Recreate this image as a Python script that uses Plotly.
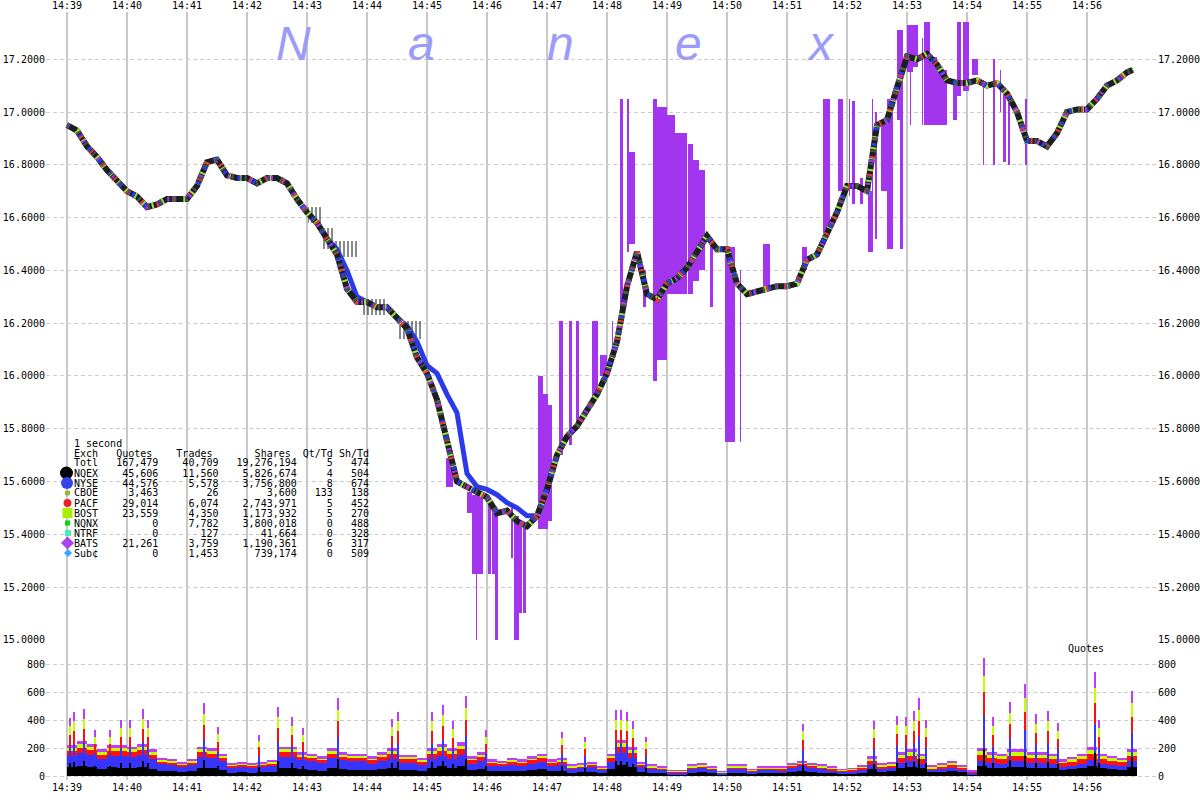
import pandas as pd
import plotly.graph_objects as go

# ---------------- data ----------------
BASE = pd.Timestamp("2010-05-06 14:39:00")

# consensus quote price, every 10 s from 14:39:00 (+ last point)
price_sec = list(range(0, 1061, 10)) + [1066]
price = [16.95, 16.93, 16.87, 16.83, 16.78, 16.74, 16.70, 16.68, 16.64, 16.65,
         16.67, 16.67, 16.67, 16.72, 16.81, 16.82, 16.76, 16.75, 16.75, 16.73,
         16.75, 16.75, 16.73, 16.67, 16.62, 16.58, 16.52, 16.46, 16.33, 16.28,
         16.28, 16.26, 16.26, 16.22, 16.18, 16.07, 16.01, 15.91, 15.75, 15.60,
         15.58, 15.56, 15.54, 15.48, 15.49, 15.45, 15.43, 15.47, 15.57, 15.70,
         15.77, 15.81, 15.87, 15.93, 16.01, 16.13, 16.34, 16.47, 16.31, 16.29,
         16.35, 16.37, 16.41, 16.47, 16.53, 16.48, 16.48, 16.35, 16.31, 16.32,
         16.33, 16.34, 16.34, 16.35, 16.44, 16.46, 16.54, 16.62, 16.72, 16.72,
         16.70, 16.95, 16.97, 17.10, 17.21, 17.20, 17.22, 17.18, 17.12, 17.11,
         17.11, 17.12, 17.10, 17.11, 17.07, 17.00, 16.89, 16.89, 16.87, 16.92,
         17.00, 17.01, 17.01, 17.05, 17.10, 17.12, 17.15, 17.16]

# NYSE quote (blue), lags the market between 14:43:30 and 14:46:50
nyse = [16.95, 16.93, 16.87, 16.83, 16.78, 16.74, 16.70, 16.68, 16.64, 16.65,
        16.67, 16.67, 16.67, 16.72, 16.81, 16.82, 16.76, 16.75, 16.75, 16.73,
        16.75, 16.75, 16.73, 16.67, 16.62, 16.58, 16.52, 16.48, 16.40, 16.30,
        16.28, 16.26, 16.26, 16.22, 16.19, 16.13, 16.04, 16.01, 15.93, 15.86,
        15.63, 15.58, 15.57, 15.55, 15.52, 15.50, 15.47, 15.47, 15.57, 15.70,
        15.77, 15.81, 15.87, 15.93, 16.01, 16.13, 16.34, 16.47, 16.31, 16.29,
        16.35, 16.37, 16.41, 16.47, 16.53, 16.48, 16.48, 16.35, 16.31, 16.32,
        16.33, 16.34, 16.34, 16.35, 16.44, 16.46, 16.54, 16.62, 16.72, 16.72,
        16.70, 16.95, 16.97, 17.10, 17.21, 17.20, 17.22, 17.18, 17.12, 17.11,
        17.11, 17.12, 17.10, 17.11, 17.07, 17.00, 16.89, 16.89, 16.87, 16.92,
        17.00, 17.01, 17.01, 17.05, 17.10, 17.12, 17.15, 17.16]

# BATS wide quotes (purple): start/end second, low, high
bats_t0 = [379, 400, 405, 409, 421, 425, 428, 444, 447, 452, 456, 471, 476, 481, 492, 502, 509, 525, 533, 545,
           553, 560, 562, 576, 586, 590, 600, 608, 621, 626, 632, 643, 658, 673, 696, 735, 756, 771, 782, 785,
           793, 801, 805, 808, 814, 820, 830, 833, 840, 843, 846, 855, 857, 863, 870, 886, 890, 896, 905, 916,
           926, 933, 936, 941, 958]
bats_t1 = [386, 405, 416, 410, 424, 431, 431, 446, 452, 455, 459, 476, 481, 485, 496, 505, 512, 531, 540, 546,
           556, 562, 568, 579, 590, 600, 608, 620, 626, 632, 638, 646, 668, 674, 703, 740, 763, 776, 783, 788,
           796, 806, 806, 810, 820, 826, 833, 836, 846, 844, 851, 856, 863, 870, 880, 890, 894, 902, 911, 917,
           928, 934, 939, 943, 960]
bats_lo = [15.58, 15.48, 15.25, 15.00, 15.25, 15.25, 15.00, 15.31, 15.00, 15.10, 15.10, 15.42, 15.42, 15.45, 15.70,
           15.74, 15.81, 15.92, 16.00, 16.05, 16.25, 16.47, 16.50, 16.26, 15.98, 16.06, 16.31, 16.31, 16.31, 16.36,
           16.40, 16.26, 15.75, 15.75, 16.34, 16.40, 16.54, 16.70, 16.68, 16.65, 16.65, 16.47, 16.47, 16.52, 16.70,
           16.48, 16.97, 16.48, 17.15, 16.95, 17.17, 16.95, 16.95, 16.95, 16.95, 16.97, 17.06, 17.08, 17.14, 16.80,
           16.80, 17.00, 16.81, 16.80, 16.80]
bats_hi = [15.69, 15.56, 15.55, 15.25, 15.52, 15.50, 15.25, 15.50, 15.47, 15.45, 15.44, 16.00, 15.93, 15.89, 16.21,
           16.21, 16.21, 16.21, 16.08, 16.21, 17.05, 17.05, 16.85, 16.40, 17.05, 17.02, 16.99, 16.92, 16.88, 16.82,
           16.78, 16.52, 16.49, 16.40, 16.50, 16.49, 17.05, 17.05, 17.05, 17.04, 16.75, 16.70, 17.05, 17.00, 16.97,
           17.05, 17.31, 17.31, 17.33, 17.33, 17.33, 17.28, 17.34, 17.21, 17.16, 17.12, 17.34, 17.34, 17.20, 17.12,
           17.20, 17.16, 17.07, 17.07, 17.05]

# NQEX wide quotes (black hatching)
nq_t0 = [241, 256, 268, 296, 330]
nq_t1 = [256, 268, 290, 320, 356]
nq_lo = [16.58, 16.48, 16.45, 16.23, 16.14]
nq_hi = [16.64, 16.56, 16.51, 16.29, 16.21]

# quote counts per second, 10 s buckets from 14:39:00
vol_sec = list(range(0, 1061, 10))
vol_nqex = [62, 70, 64, 53, 62, 58, 59, 64, 53, 36, 34, 28, 34, 59, 56, 45, 25, 28, 25, 28,
            31, 59, 59, 48, 45, 39, 56, 48, 45, 45,
            42, 51, 60, 45, 45, 39, 60, 69, 60, 72, 42, 51, 36, 33, 39, 36, 42, 48, 36, 39,
            24, 27, 30, 21, 48, 78, 63, 30, 24, 21, 12, 12, 24, 27, 21, 11, 24, 24, 15, 21,
            21, 20, 29, 33, 29, 24, 20, 15, 17, 23,
            49, 32, 35, 60, 67, 56, 26, 32, 37, 28, 14, 70, 60, 56, 67, 67, 60, 60, 56, 42,
            47, 56, 74, 56, 51, 46, 67]
vol_nyse = [84, 95, 87, 72, 84, 88, 80, 87, 72, 49, 46, 38, 46, 80, 76, 61, 34, 38, 34, 38,
            42, 80, 80, 65, 61, 53, 76, 65, 61, 61,
            45, 54, 64, 48, 48, 42, 64, 74, 64, 77, 45, 54, 38, 35, 42, 38, 45, 51, 38, 42,
            26, 29, 32, 22, 51, 83, 67, 32, 26, 22, 13, 13, 26, 29, 22, 11, 26, 26, 16, 22,
            22, 21, 30, 35, 30, 26, 21, 16, 18, 24,
            28, 18, 20, 34, 38, 32, 15, 18, 21, 16, 8, 40, 34, 32, 38, 38, 34, 34, 32, 24,
            27, 32, 42, 32, 29, 26, 38]
vol_pacf = [31, 35, 32, 27, 31, 30, 29, 32, 27, 18, 17, 14, 17, 29, 28, 22, 13, 14, 13, 14,
            15, 29, 29, 24, 22, 20, 28, 24, 22, 22,
            24, 29, 34, 26, 26, 22, 34, 39, 34, 41, 24, 29, 20, 19, 22, 20, 24, 27, 20, 22,
            14, 15, 17, 12, 27, 44, 36, 17, 14, 12, 7, 7, 14, 15, 12, 6, 14, 14, 9, 12,
            12, 11, 16, 19, 16, 14, 11, 9, 9, 13,
            28, 18, 20, 34, 38, 32, 15, 18, 21, 16, 8, 40, 34, 32, 38, 38, 34, 34, 32, 24,
            27, 32, 42, 32, 29, 26, 38]
vol_bost = [24, 28, 25, 21, 24, 26, 23, 25, 21, 14, 13, 11, 13, 23, 22, 18, 10, 11, 10, 11,
            12, 23, 23, 19, 18, 15, 22, 19, 18, 18,
            15, 19, 22, 17, 17, 14, 22, 25, 22, 26, 15, 19, 13, 12, 14, 13, 15, 18, 13, 14,
            9, 10, 11, 8, 18, 29, 23, 11, 9, 8, 4, 4, 9, 10, 8, 4, 9, 9, 5, 8,
            8, 7, 10, 12, 10, 9, 7, 5, 6, 8,
            18, 12, 13, 22, 25, 21, 10, 12, 14, 10, 5, 26, 22, 21, 25, 25, 22, 22, 21, 16,
            18, 21, 27, 21, 19, 17, 25]
vol_bats = [19, 22, 22, 17, 19, 18, 19, 22, 17, 13, 10, 9, 10, 19, 18, 14, 8, 9, 8, 9,
            10, 19, 19, 14, 14, 13, 18, 14, 14, 14,
            14, 17, 20, 14, 14, 13, 20, 23, 20, 24, 14, 17, 13, 11, 13, 13, 14, 16, 13, 13,
            7, 9, 10, 7, 16, 26, 21, 10, 7, 7, 4, 4, 7, 9, 7, 3, 7, 7, 5, 7,
            7, 6, 10, 11, 10, 7, 6, 5, 5, 7,
            17, 10, 12, 20, 22, 19, 9, 10, 12, 10, 5, 24, 20, 19, 22, 22, 20, 20, 19, 14,
            16, 19, 25, 19, 17, 15, 22]

# single-second bursts
spk_sec = [3, 7, 17, 28, 43, 54, 63, 76, 81, 137, 151, 192, 211, 225, 236, 271, 325, 331, 365, 376,
           386, 399, 419, 495, 518, 549, 554, 560, 566, 579, 736, 807, 830, 839, 847, 852, 859, 917, 926, 943,
           958, 969, 981, 991, 1028, 1032, 1065]
spk_nqex = [90, 100, 105, 75, 75, 90, 90, 105, 90, 115, 75, 65, 110, 90, 75, 125, 90, 100, 100, 110,
            85, 125, 75, 70, 60, 105, 105, 100, 85, 60, 80, 85, 95, 90, 100, 125, 90, 190, 90, 115,
            145, 95, 100, 85, 165, 90, 135]
spk_nyse = [115, 130, 135, 90, 90, 110, 110, 135, 110, 145, 100, 80, 135, 120, 95, 155, 115, 130, 130, 145,
            110, 160, 90, 90, 80, 130, 130, 130, 110, 80, 105, 110, 120, 120, 130, 155, 110, 240, 120, 150,
            185, 125, 130, 105, 205, 110, 170]
spk_pacf = [85, 90, 95, 65, 65, 80, 80, 95, 80, 105, 70, 60, 100, 85, 70, 110, 80, 90, 90, 100,
            80, 115, 65, 60, 55, 95, 95, 90, 80, 55, 75, 80, 85, 85, 95, 110, 80, 170, 85, 105,
            130, 90, 95, 75, 150, 80, 120]
spk_bost = [65, 70, 75, 50, 50, 60, 60, 75, 60, 80, 55, 45, 75, 65, 50, 85, 65, 70, 70, 80,
            60, 85, 50, 50, 45, 70, 70, 70, 60, 45, 60, 60, 65, 65, 70, 85, 60, 117, 65, 80,
            100, 65, 70, 60, 110, 60, 95]
spk_bats = [60, 70, 70, 50, 50, 60, 60, 70, 60, 75, 50, 40, 70, 60, 50, 85, 60, 70, 70, 75,
            55, 85, 50, 45, 40, 70, 70, 70, 55, 40, 55, 55, 65, 60, 70, 85, 60, 123, 60, 80,
            95, 65, 70, 55, 110, 60, 90]

# summary table
tbl_exch = ["Totl", "NQEX", "NYSE", "CBOE", "PACF", "BOST", "NQNX", "NTRF", "BATS", "Sub\u00a2"]
tbl_quotes = ["167,479", "45,606", "44,576", "3,463", "29,014", "23,559", "0", "0", "21,261", "0"]
tbl_trades = ["40,709", "11,560", "5,578", "26", "6,074", "4,350", "7,782", "127", "3,759", "1,453"]
tbl_shares = ["19,276,194", "5,826,674", "3,756,800", "3,600", "2,743,971", "1,173,932",
              "3,800,018", "41,664", "1,190,361", "739,174"]
tbl_qttd = ["5", "4", "8", "133", "5", "5", "0", "0", "6", "0"]
tbl_shtd = ["474", "504", "674", "138", "452", "270", "488", "328", "317", "509"]

minute_ticks = list(range(0, 1021, 60))

# ---------------- helpers ----------------
def T(s):
    return BASE + pd.Timedelta(seconds=s)

L, R, TOP, BOT, W, H = 46, 43, 12, 20, 1200, 800
PW, PH = W - L - R, H - TOP - BOT
def px(x):
    return (x - L) / PW
def py(y):
    return (H - BOT - y) / PH

SPLIT = py(640)
MONO = "DejaVu Sans Mono"
C_BLK, C_BLU, C_RED, C_LIM, C_PUR = "#000000", "#3535ff", "#ff1010", "#c4ff00", "#bf3bff"

fig = go.Figure()

# ---------------- volume panel ----------------
vx = [T(s + 5) for s in vol_sec]
base = [0] * len(vol_sec)
for arr, col in [(vol_nqex, C_BLK), (vol_nyse, C_BLU), (vol_pacf, C_RED), (vol_bost, C_LIM), (vol_bats, C_PUR)]:
    fig.add_bar(x=vx, y=arr, base=list(base), width=10000, marker_color=col,
                marker_line_width=0, xaxis="x2", yaxis="y2", hoverinfo="skip")
    base = [b + a for b, a in zip(base, arr)]

sx = [T(s) for s in spk_sec]
base = [0] * len(spk_sec)
for arr, col in [(spk_nqex, C_BLK), (spk_nyse, C_BLU), (spk_pacf, C_RED), (spk_bost, C_LIM), (spk_bats, C_PUR)]:
    fig.add_bar(x=sx, y=arr, base=list(base), width=1800, marker_color=col,
                marker_line_width=0, xaxis="x2", yaxis="y2", hoverinfo="skip")
    base = [b + a for b, a in zip(base, arr)]

# ---------------- price panel ----------------
fig.add_bar(x=[T((a + b) / 2) for a, b in zip(bats_t0, bats_t1)],
            y=[h - l for l, h in zip(bats_lo, bats_hi)], base=bats_lo,
            width=[(b - a) * 1000 for a, b in zip(bats_t0, bats_t1)],
            marker_color="#a435ee", marker_line_width=0, xaxis="x", yaxis="y", hoverinfo="skip")

fig.add_bar(x=[T((a + b) / 2) for a, b in zip(nq_t0, nq_t1)],
            y=[h - l for l, h in zip(nq_lo, nq_hi)], base=nq_lo,
            width=[(b - a) * 1000 for a, b in zip(nq_t0, nq_t1)],
            marker=dict(color="rgba(0,0,0,0)", line_width=0,
                        pattern=dict(shape="|", fgcolor="#0c1a16", bgcolor="rgba(0,0,0,0)",
                                     size=4, solidity=0.5, fillmode="overlay")),
            xaxis="x", yaxis="y", hoverinfo="skip")

px_t = [T(s) for s in price_sec]
fig.add_scatter(x=px_t, y=nyse, mode="lines", line=dict(color="#2a3ae8", width=5),
                xaxis="x", yaxis="y", hoverinfo="skip")
fig.add_scatter(x=px_t, y=price, mode="lines", line=dict(color="#1b201e", width=6),
                xaxis="x", yaxis="y", hoverinfo="skip")
for col, wd, dash in [("#9be040", 6, "2px,9px"), ("#2a3ae8", 5, "3px,13px"),
                      ("#e03a3a", 6, "2px,16px"), ("#a435ee", 5, "2px,21px"),
                      ("#4a524e", 6, "2px,11px")]:
    fig.add_scatter(x=px_t, y=price, mode="lines", line=dict(color=col, width=wd, dash=dash),
                    xaxis="x", yaxis="y", hoverinfo="skip")

# dummy traces so the right-hand axes exist
fig.add_scatter(x=[], y=[], xaxis="x", yaxis="y3", hoverinfo="skip")
fig.add_scatter(x=[], y=[], xaxis="x2", yaxis="y4", hoverinfo="skip")

# ---------------- layout ----------------
tickfont = dict(family=MONO, size=10, color="#000000")
xcommon = dict(type="date", range=[T(-21), T(1090)], tickformat="%H:%M",
               tickmode="array", tickvals=[T(s) for s in minute_ticks],
               showgrid=True, gridcolor="#c8c8c8", gridwidth=2, zeroline=False, showline=False,
               ticks="", tickfont=tickfont, automargin=False)
ymain = dict(range=[14.9995, 17.379], dtick=0.2, tick0=15, tickformat=".4f", zeroline=False,
             showline=False, ticks="", tickfont=tickfont, automargin=False)
yvol = dict(range=[-28.6, 971.4], dtick=200, tick0=0, zeroline=False, showline=False, ticks="",
            tickfont=tickfont, automargin=False)

fig.update_layout(
    width=W, height=H, margin=dict(l=L, r=R, t=TOP, b=BOT),
    paper_bgcolor="white", plot_bgcolor="white", showlegend=False, barmode="overlay", bargap=0,
    xaxis=dict(xcommon, domain=[0, 1], anchor="y", side="top"),
    xaxis2=dict(xcommon, domain=[0, 1], anchor="y2", side="bottom", matches="x"),
    yaxis=dict(ymain, domain=[SPLIT, 1], anchor="x", side="left",
               showgrid=True, gridcolor="#cccccc", griddash="4px,3px", gridwidth=1),
    yaxis3=dict(ymain, overlaying="y", anchor="x", side="right", showgrid=False),
    yaxis2=dict(yvol, domain=[0, SPLIT], anchor="x2", side="left",
                showgrid=True, gridcolor="#cccccc", griddash="4px,3px", gridwidth=1),
    yaxis4=dict(yvol, overlaying="y2", anchor="x2", side="right", showgrid=False),
)

ann = []
# watermark
for ch, cx in zip(["N", "a", "n", "e", "x"], [293, 422, 560, 688, 821]):
    ann.append(dict(text=ch, xref="paper", yref="paper", x=px(cx), y=py(44), xanchor="center",
                    yanchor="middle", showarrow=False,
                    font=dict(family="Liberation Sans", size=48, color="#9c9cf8", style="italic")))

# table text
NB = "\u00a0"
lines = ["1 second".replace(" ", NB),
         "Exch" + NB * 3 + "Quotes" + NB * 4 + "Trades" + NB * 7 + "Shares" + NB * 2 + "Qt/Td" + NB + "Sh/Td"]
for i in range(len(tbl_exch)):
    row = (tbl_exch[i] + tbl_quotes[i].rjust(10) + tbl_trades[i].rjust(10) + tbl_shares[i].rjust(13)
           + tbl_qttd[i].rjust(6) + tbl_shtd[i].rjust(6))
    lines.append(row.replace(" ", NB))
for i, ln in enumerate(lines):
    ann.append(dict(text=ln, xref="paper", yref="paper", x=px(72), y=py(443 + 10 * i),
                    xanchor="left", yanchor="middle", showarrow=False,
                    font=dict(family=MONO, size=10, color="#000000")))

ann.append(dict(text="Quotes", xref="paper", yref="paper", x=px(1086), y=py(648), xanchor="center",
                yanchor="middle", showarrow=False, font=dict(family=MONO, size=10, color="#000000")))
fig.update_layout(annotations=ann)

# table markers
shapes = []
def mk(kind, cx, cy, r, col):
    d = dict(xref="paper", yref="paper", xsizemode="pixel", ysizemode="pixel",
             xanchor=px(cx), yanchor=py(cy), fillcolor=col, line_width=0, layer="above")
    if kind == "diamond":
        d.update(type="path", path=f"M 0,{r} L {r},0 L 0,{-r} L {-r},0 Z")
    else:
        d.update(type=kind, x0=-r, x1=r, y0=-r, y1=r)
    shapes.append(d)

mk("circle", 66.5, 473, 6.5, "#000000")
mk("circle", 67, 483, 6, "#3344ee")
mk("circle", 67.5, 493, 2.8, "#9cb837")
mk("circle", 67.5, 503, 4, "#ee2222")
mk("rect", 67.5, 513, 5, "#aaee00")
mk("rect", 67.5, 523, 2.5, "#00dd00")
mk("rect", 68, 533, 3, "#44eebb")
mk("diamond", 67.5, 543, 6.5, "#aa44ee")
mk("diamond", 68, 553, 4, "#33aaff")
fig.update_layout(shapes=shapes)

# the page's default 8px body margin would shift the chart; remove it
fig.write_html("out.html", config={"displayModeBar": False},
               post_script="document.body.style.margin='0';document.body.style.overflow='hidden';")
